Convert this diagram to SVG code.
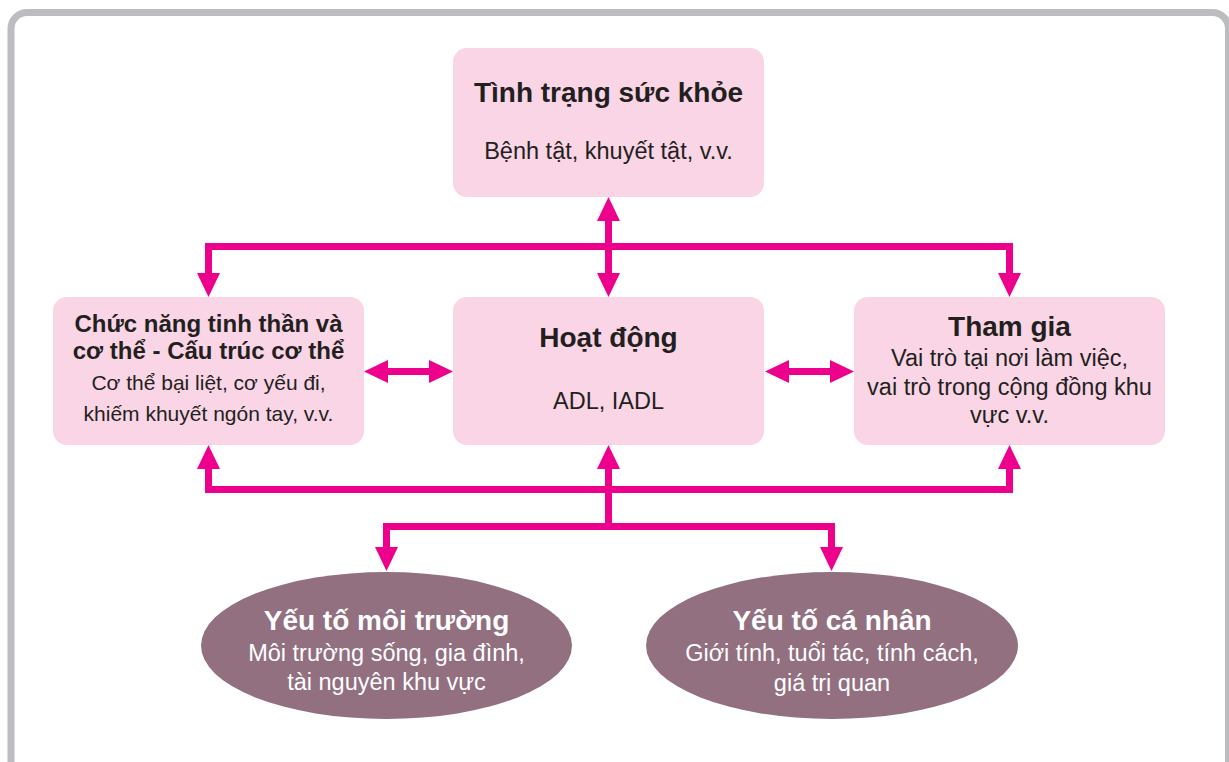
<svg xmlns="http://www.w3.org/2000/svg" width="1229" height="762" viewBox="0 0 1229 762">
<style>
text{font-family:"Liberation Sans",Arial,sans-serif;text-anchor:middle;fill:#231f20}
.box{fill:#f9d5e5}
.ell{fill:#927080}
.t{font-weight:bold;font-size:28px}
.t2{font-weight:bold;font-size:24px}
.s{font-size:23.5px}
.s2{font-size:21px}
.w{fill:#ffffff}
.ln{stroke:#ec008c;stroke-width:7;fill:none}
.ah{fill:#ec008c}
</style>
<rect x="0" y="0" width="1229" height="762" fill="#ffffff"/>
<rect x="11" y="12.5" width="1217.5" height="800" rx="16" fill="#ffffff" stroke="#bcbdc1" stroke-width="7"/>
<g id="connectors">
  <path class="ln" d="M208.5 273V246.5H1009.5V273"/>
  <path class="ln" d="M608.5 220V273"/>
  <path class="ln" d="M208.5 468V489.5H1009.5V468"/>
  <path class="ln" d="M608.5 468V526.5"/>
  <path class="ln" d="M386.5 547V526.5H831.5V547"/>
  <path class="ln" d="M388 371.5H430"/>
  <path class="ln" d="M788 371.5H830"/>
  <polygon class="ah" points="208.5,297 197,273 220,273"/>
  <polygon class="ah" points="1009.5,297 998,273 1021,273"/>
  <polygon class="ah" points="608.5,197 597,221 620,221"/>
  <polygon class="ah" points="608.5,297 597,273 620,273"/>
  <polygon class="ah" points="208.5,445 197,469 220,469"/>
  <polygon class="ah" points="608.5,445 597,469 620,469"/>
  <polygon class="ah" points="1009.5,445 998,469 1021,469"/>
  <polygon class="ah" points="386.5,571 375,547 398,547"/>
  <polygon class="ah" points="831.5,571 820,547 843,547"/>
  <polygon class="ah" points="364,371.5 388,360 388,383"/>
  <polygon class="ah" points="453,371.5 429,360 429,383"/>
  <polygon class="ah" points="765,371.5 789,360 789,383"/>
  <polygon class="ah" points="854,371.5 830,360 830,383"/>
</g>
<g id="node-health">
  <rect class="box" x="453" y="48" width="311" height="149" rx="14"/>
  <text class="t" x="608.5" y="102">Tình trạng sức khỏe</text>
  <text class="s" x="608.5" y="159">Bệnh tật, khuyết tật, v.v.</text>
</g>
<g id="node-function">
  <rect class="box" x="53" y="297" width="311" height="148" rx="14"/>
  <text class="t2" x="208.5" y="332">Chức năng tinh thần và</text>
  <text class="t2" x="208.5" y="359">cơ thể - Cấu trúc cơ thể</text>
  <text class="s2" x="208.5" y="390">Cơ thể bại liệt, cơ yếu đi,</text>
  <text class="s2" x="208.5" y="421">khiếm khuyết ngón tay, v.v.</text>
</g>
<g id="node-activity">
  <rect class="box" x="453" y="297" width="311" height="148" rx="14"/>
  <text class="t" x="608.5" y="347">Hoạt động</text>
  <text class="s" x="608.5" y="409">ADL, IADL</text>
</g>
<g id="node-participation">
  <rect class="box" x="854" y="297" width="311" height="148" rx="14"/>
  <text class="t" x="1009.5" y="336">Tham gia</text>
  <text class="s" x="1009.5" y="366">Vai trò tại nơi làm việc,</text>
  <text class="s" x="1009.5" y="395">vai trò trong cộng đồng khu</text>
  <text class="s" x="1009.5" y="423">vực v.v.</text>
</g>
<g id="node-environment">
  <ellipse class="ell" cx="386.5" cy="645.5" rx="185.5" ry="73.5"/>
  <text class="t w" x="386.5" y="630">Yếu tố môi trường</text>
  <text class="s w" x="386.5" y="661">Môi trường sống, gia đình,</text>
  <text class="s w" x="386.5" y="690">tài nguyên khu vực</text>
</g>
<g id="node-personal">
  <ellipse class="ell" cx="832" cy="645.5" rx="186" ry="73.5"/>
  <text class="t w" x="832" y="630">Yếu tố cá nhân</text>
  <text class="s w" x="832" y="661">Giới tính, tuổi tác, tính cách,</text>
  <text class="s w" x="832" y="691">giá trị quan</text>
</g>
</svg>
